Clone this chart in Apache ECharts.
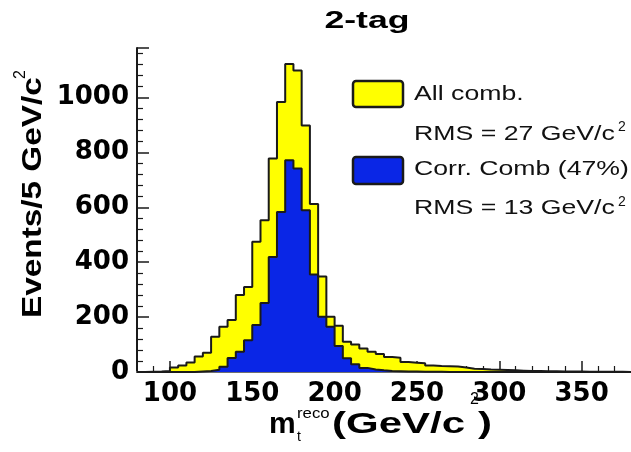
<!DOCTYPE html>
<html><head><meta charset="utf-8">
<script src="https://cdn.jsdelivr.net/npm/echarts@6/dist/echarts.min.js"></script>
<style>html,body{margin:0;padding:0;background:#fff}#c{width:631px;height:452px}</style>
</head><body><div id="c"></div>
<script>
// 5 GeV/c^2 bins, lower edges
const binLowEdges = [80,85,90,95,100,105,110,115,120,125,
  130,135,140,145,150,155,160,165,170,175,
  180,185,190,195,200,205,210,215,220,225,
  230,235,240,245,250,255,260,265,270,275,
  280,285,290,295,300,305,310,315,320,325,
  330,335,340,345,350,355,360,365,370,375];
const binWidth = 5;
// All combinations (yellow)
const allComb = [0,1,2,4,16,24,35,56,70,128,
  165,189,280,310,474,553,778,983,1122,1098,
  898,612,348,201,168,110,100,86,74,66,
  55,52,36,34,32,24,22,21,20,16,
  12,11,9,8,7,6,5,4,4,3,
  3,2,2,2,1,1,1,1,1,0];
// Correct combination (blue)
const corrComb = [0,0,0,0,0,0,0,2,4,8,
  19,51,74,116,171,251,419,583,771,741,
  589,355,201,165,95,50,28,15,9,6,
  4,3,2,2,1,1,1,0,0,0,
  0,0,0,0,0,0,0,0,0,0,
  0,0,0,0,0,0,0,0,0,0];
const xMajorTicks = [100,150,200,250,300,350];
const xMinorTicks = [90,110,120,130,140,160,170,180,190,210,220,230,240,260,270,280,290,310,320,330,340,360,370];
const yMinorTicks = [40,80,120,160,240,280,320,360,440,480,520,560,640,680,720,760,840,880,920,960,1040,1080,1120,1160];

function histData(edges, vals) {
  const d = edges.map((e, i) => [e, vals[i]]);
  d.push([edges[edges.length - 1] + binWidth, vals[vals.length - 1]]);
  return d;
}

const chart = echarts.init(document.getElementById('c'), null, {renderer: 'canvas'});
const dark = '#1a1a1a';
const labelFont = {fontFamily: 'DejaVu Sans', fontWeight: 'bold', fontSize: 26, color: '#000'};
const reg = '"Liberation Sans", Arial, sans-serif';

chart.setOption({
  animation: false,
  backgroundColor: '#fff',
  grid: {left: 137, top: 48, right: 0, bottom: 80, containLabel: false},
  xAxis: [
    {type: 'value', min: 80, max: 380, position: 'bottom',
     axisLine: {show: true, onZero: false, lineStyle: {color: dark, width: 2}},
     axisTick: {show: true, inside: true, length: 11, customValues: xMajorTicks, lineStyle: {color: dark, width: 1.5}},
     axisLabel: Object.assign({customValues: xMajorTicks, margin: 9}, labelFont),
     splitLine: {show: false}},
    {type: 'value', min: 80, max: 380, position: 'bottom',
     axisLine: {show: false},
     axisTick: {show: true, inside: true, length: 6, customValues: xMinorTicks, lineStyle: {color: dark, width: 1.2}},
     axisLabel: {show: false}, splitLine: {show: false}},
    {type: 'value', min: 80, max: 380, position: 'top',
     axisLine: {show: true, lineStyle: {color: '#707070', width: 2}},
     axisTick: {show: false}, axisLabel: {show: false}, splitLine: {show: false}}
  ],
  yAxis: [
    {type: 'value', min: 0, max: 1180, interval: 200,
     axisLine: {show: true, lineStyle: {color: dark, width: 2}},
     axisTick: {show: true, inside: true, length: 12, lineStyle: {color: dark, width: 1.5}},
     axisLabel: Object.assign({margin: 8, formatter: v => (v % 200 === 0 ? String(v) : '')}, labelFont),
     splitLine: {show: false}},
    {type: 'value', min: 0, max: 1180, position: 'left',
     axisLine: {show: false},
     axisTick: {show: true, inside: true, length: 6, customValues: yMinorTicks, lineStyle: {color: dark, width: 1.2}},
     axisLabel: {show: false}, splitLine: {show: false}}
  ],
  series: [
    {name: 'All comb.', type: 'line', step: 'end', xAxisIndex: 0, yAxisIndex: 0,
     data: histData(binLowEdges, allComb), symbol: 'none',
     lineStyle: {color: dark, width: 2}, areaStyle: {color: '#ffff00', opacity: 1}},
    {name: 'Corr. Comb', type: 'line', step: 'end', xAxisIndex: 0, yAxisIndex: 0,
     data: histData(binLowEdges, corrComb), symbol: 'none',
     lineStyle: {color: dark, width: 2}, areaStyle: {color: '#0a26e6', opacity: 1}}
  ],
  graphic: [
    {type: 'text', x: 367, y: 22, scaleX: 1.55,
     style: {text: '2-tag', font: 'bold 23px ' + reg, fill: '#000', textAlign: 'center', textVerticalAlign: 'middle', align: 'center', verticalAlign: 'middle'}},
    // legend
    {type: 'rect', shape: {x: 353, y: 81, width: 50, height: 26, r: 3}, style: {fill: '#ffff00', stroke: dark, lineWidth: 2.5}},
    {type: 'rect', shape: {x: 353, y: 157, width: 50, height: 27, r: 3}, style: {fill: '#0a26e6', stroke: dark, lineWidth: 2.5}},
    {type: 'text', x: 414, y: 94.3, scaleX: 1.27, style: {text: 'All comb.', font: '21px ' + reg, fill: '#111', textAlign: 'left', textVerticalAlign: 'middle', align: 'left', verticalAlign: 'middle'}},
    {type: 'text', x: 414, y: 134.3, scaleX: 1.27, style: {text: 'RMS = 27 GeV/c', font: '21px ' + reg, fill: '#111', textAlign: 'left', textVerticalAlign: 'middle', align: 'left', verticalAlign: 'middle'}},
    {type: 'text', x: 618, y: 126.8, style: {text: '2', font: '14px ' + reg, fill: '#111', textAlign: 'left', textVerticalAlign: 'middle', align: 'left', verticalAlign: 'middle'}},
    {type: 'text', x: 414, y: 169, scaleX: 1.27, style: {text: 'Corr. Comb (47%)', font: '21px ' + reg, fill: '#111', textAlign: 'left', textVerticalAlign: 'middle', align: 'left', verticalAlign: 'middle'}},
    {type: 'text', x: 414, y: 208.7, scaleX: 1.27, style: {text: 'RMS = 13 GeV/c', font: '21px ' + reg, fill: '#111', textAlign: 'left', textVerticalAlign: 'middle', align: 'left', verticalAlign: 'middle'}},
    {type: 'text', x: 618, y: 201.8, style: {text: '2', font: '14px ' + reg, fill: '#111', textAlign: 'left', textVerticalAlign: 'middle', align: 'left', verticalAlign: 'middle'}},
    // y axis title
    {type: 'text', x: 33, y: 318, rotation: Math.PI / 2, scaleX: 1.19,
     style: {text: 'Events/5 GeV/c', font: 'bold 28px ' + reg, fill: '#000', textAlign: 'left', textVerticalAlign: 'middle', align: 'left', verticalAlign: 'middle'}},
    {type: 'text', x: 21, y: 79, rotation: Math.PI / 2,
     style: {text: '2', font: '16px ' + reg, fill: '#000', textAlign: 'left', textVerticalAlign: 'middle', align: 'left', verticalAlign: 'middle'}},
    // x axis title
    {type: 'text', x: 269, y: 425,
     style: {text: 'm', font: 'bold 30px ' + reg, fill: '#000', textAlign: 'left', textVerticalAlign: 'middle', align: 'left', verticalAlign: 'middle'}},
    {type: 'text', x: 297, y: 414, scaleX: 1.2,
     style: {text: 'reco', font: '14px ' + reg, fill: '#000', textAlign: 'left', textVerticalAlign: 'middle', align: 'left', verticalAlign: 'middle'}},
    {type: 'text', x: 297, y: 437, style: {text: 't', font: '14px ' + reg, fill: '#000', textAlign: 'left', textVerticalAlign: 'middle', align: 'left', verticalAlign: 'middle'}},
    {type: 'text', x: 332, y: 425, scaleX: 1.4,
     style: {text: '(GeV/c', font: 'bold 30px ' + reg, fill: '#000', textAlign: 'left', textVerticalAlign: 'middle', align: 'left', verticalAlign: 'middle'}},
    {type: 'text', x: 470, y: 400, style: {text: '2', font: '16px ' + reg, fill: '#000', textAlign: 'left', textVerticalAlign: 'middle', align: 'left', verticalAlign: 'middle'}},
    {type: 'text', x: 478, y: 425, scaleX: 1.4,
     style: {text: ')', font: 'bold 30px ' + reg, fill: '#000', textAlign: 'left', textVerticalAlign: 'middle', align: 'left', verticalAlign: 'middle'}}
  ]
});
</script>
</body></html>
